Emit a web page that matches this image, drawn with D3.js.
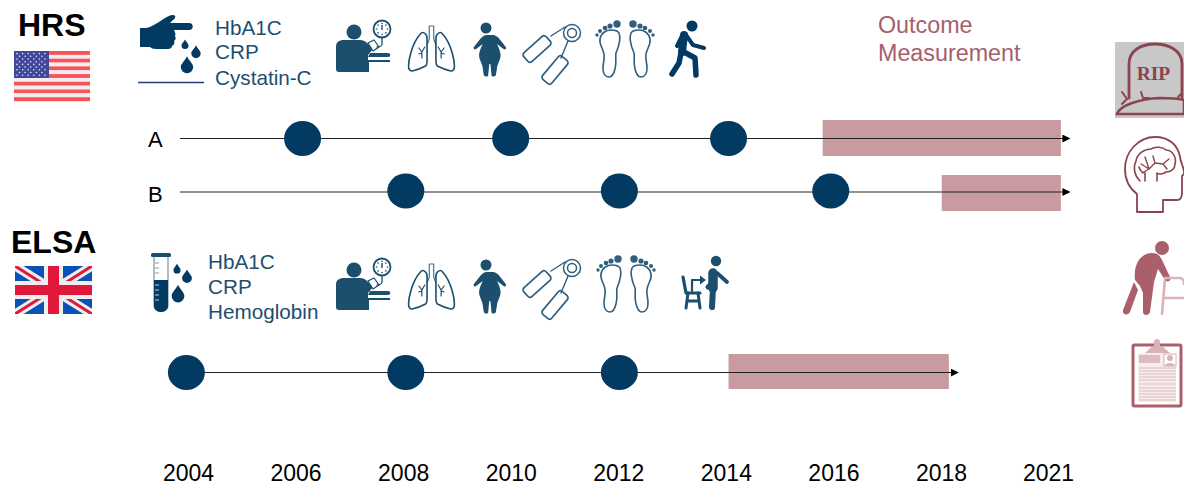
<!DOCTYPE html>
<html>
<head>
<meta charset="utf-8">
<script src="https://cdn.jsdelivr.net/npm/d3@7"></script>
<style>
html, body { margin: 0; padding: 0; background: #fff; }
svg { display: block; }
text { font-family: "Liberation Sans", Arial, sans-serif; }
</style>
</head>
<body>
<div id="chart"></div>
<script>
// tick labels: the axis has a jump, 2018 -> 2021 takes the same room as one two year step
var tickYears = [2004, 2006, 2008, 2010, 2012, 2014, 2016, 2018, 2021];

// wave years per row
var rowNames = ["A", "B", "ELSA"];
var waveYearsA = [2006.13, 2010, 2014.05];
var waveYearsB = [2008.05, 2012.02, 2015.95];
var waveYearsElsa = [2003.97, 2008.05, 2012.02];

// outcome measurement windows [from, to]
var outcomeA = [2015.8, 2021.36];
var outcomeB = [2018.02, 2021.36];
var outcomeElsa = [2014.05, 2018.22];

// time line start and end per row
var lineA = [2003.85, 2021.6];
var lineB = [2003.85, 2021.6];
var lineElsa = [2003.97, 2018.47];

var hrsMarkers = ["HbA1C", "CRP", "Cystatin-C"];
var elsaMarkers = ["HbA1C", "CRP", "Hemoglobin"];
var outcomeLabel = ["Outcome", "Measurement"];

var navy = "#023a62", teal = "#1c4e6e", rose = "#8c4350", roseLight = "#c99aa0";

var svg = d3.select("#chart").append("svg")
  .attr("width", 1184)
  .attr("height", 486);

var x = d3.scaleLinear()
  .domain([2004, 2018, 2021])
  .range([188, 941, 1048]);

var rowY = d3.scaleOrdinal()
  .domain(rowNames)
  .range([138.5, 192, 372.5]);

// x axis, only the labels show
var axis = svg.append("g")
  .attr("transform", "translate(0,481)")
  .call(d3.axisBottom(x).tickValues(tickYears).tickFormat(d3.format("d")).tickSize(0));
axis.select(".domain").remove();
axis.selectAll("text")
  .attr("y", 0)
  .attr("dy", 0)
  .style("font-family", '"Liberation Sans", Arial, sans-serif')
  .style("font-size", "23px")
  .attr("fill", "#000");

// rows
var rows = [
  { name: "A", waves: waveYearsA, outcome: outcomeA, line: lineA, barShift: -18.5, dotShift: 0 },
  { name: "B", waves: waveYearsB, outcome: outcomeB, line: lineB, barShift: -17, dotShift: -1 },
  { name: "ELSA", waves: waveYearsElsa, outcome: outcomeElsa, line: lineElsa, barShift: -18.5, dotShift: 0 }
];

svg.append("defs").append("marker")
  .attr("id", "arrow")
  .attr("viewBox", "0 0 8 8")
  .attr("refX", 7).attr("refY", 4)
  .attr("markerWidth", 8).attr("markerHeight", 8)
  .attr("markerUnits", "userSpaceOnUse")
  .attr("orient", "auto")
  .append("path").attr("d", "M0,0L8,4L0,8Z").attr("fill", "#000");

rows.forEach(function(r) {
  var g = svg.append("g");
  var h = r.name == "ELSA" ? 35 : 36;
  g.append("rect")
    .attr("x", x(r.outcome[0]))
    .attr("width", x(r.outcome[1]) - x(r.outcome[0]))
    .attr("y", rowY(r.name) + r.barShift)
    .attr("height", h)
    .attr("fill", roseLight);
  g.append("line")
    .attr("x1", x(r.line[0])).attr("x2", x(r.line[1]))
    .attr("y1", rowY(r.name)).attr("y2", rowY(r.name))
    .attr("stroke", "#222").attr("stroke-width", 1)
    .attr("marker-end", "url(#arrow)");
  g.selectAll("ellipse").data(r.waves).enter().append("ellipse")
    .attr("cx", function(d) { return x(d); })
    .attr("cy", rowY(r.name) + r.dotShift)
    .attr("rx", 18.5).attr("ry", 17.5)
    .attr("fill", navy);
});

// text labels
function label(txt, px, py, size, fill, weight) {
  svg.append("text").attr("x", px).attr("y", py)
    .attr("font-size", size).attr("fill", fill)
    .attr("font-weight", weight || "normal")
    .text(txt);
}
label("HRS", 18, 36, 32, "#000", "bold");
label("ELSA", 11, 253, 32, "#000", "bold");
label("A", 148, 147, 22, "#000");
label("B", 148, 202, 22, "#000");
var hrsY = [35, 59, 85], elsaY = [269, 294, 319];
hrsMarkers.forEach(function(t, i) { label(t, 215, hrsY[i], 20.7, teal); });
elsaMarkers.forEach(function(t, i) { label(t, 208, elsaY[i], 20.7, teal); });
outcomeLabel.forEach(function(t, i) { label(t, 878, 33 + i * 28, 23.3, "#a5606a"); });

// icons, drawn in local coordinates
function place(px, py) {
  return svg.append("g").attr("transform", "translate(" + px + "," + py + ")");
}
function drop(g, cx, cy, r, col) {
  g.append("path")
    .attr("d", "M" + cx + "," + (cy - r * 1.75) +
      "C" + (cx + r * 0.35) + "," + (cy - r * 1.0) + " " + (cx + r) + "," + (cy - r * 0.55) + " " + (cx + r) + "," + cy +
      "A" + r + "," + r + " 0 1 1 " + (cx - r) + "," + cy +
      "C" + (cx - r) + "," + (cy - r * 0.55) + " " + (cx - r * 0.35) + "," + (cy - r) + " " + cx + "," + (cy - r * 1.75) + "Z")
    .attr("fill", col);
}
function stroke(g, d, w, col) {
  return g.append("path").attr("d", d).attr("fill", "none")
    .attr("stroke", col).attr("stroke-width", w)
    .attr("stroke-linecap", "round").attr("stroke-linejoin", "round");
}

function usFlag(px, py) {
  var g = place(px, py);
  for (var i = 0; i < 13; i++) {
    g.append("rect").attr("x", 0).attr("y", i * 50 / 13).attr("width", 76).attr("height", 50 / 13 + 0.2)
      .attr("fill", i % 2 == 0 ? "#f9545c" : "#efefef");
  }
  g.append("rect").attr("width", 35).attr("height", 27).attr("fill", "#41479b");
  for (var row = 0; row < 9; row++) {
    for (var col = 0; col < (row % 2 ? 5 : 6); col++) {
      g.append("circle")
        .attr("cx", (row % 2 ? 5.5 : 3) + col * 5.6)
        .attr("cy", 2.6 + row * 2.7)
        .attr("r", 0.8).attr("fill", "#e8e8f4");
    }
  }
}

function ukFlag(px, py) {
  var g = place(px, py);
  g.append("clipPath").attr("id", "ukclip").append("rect").attr("width", 77).attr("height", 48);
  var f = g.append("g").attr("clip-path", "url(#ukclip)");
  f.append("rect").attr("width", 77).attr("height", 48).attr("fill", "#0a52b5");
  f.append("path").attr("d", "M0,0L77,48M77,0L0,48").attr("stroke", "#eee").attr("stroke-width", 9);
  f.append("path").attr("d", "M0,0L38,24M77,0L39,24M0,48L38,24M77,48L39,24").attr("stroke", "#e0183c").attr("stroke-width", 3);
  f.append("rect").attr("x", 29).attr("width", 19).attr("height", 48).attr("fill", "#eee");
  f.append("rect").attr("y", 15).attr("width", 77).attr("height", 18).attr("fill", "#eee");
  f.append("rect").attr("x", 33).attr("width", 11).attr("height", 48).attr("fill", "#e0183c");
  f.append("rect").attr("y", 19).attr("width", 77).attr("height", 10).attr("fill", "#e0183c");
}

function hand(px, py) {
  var g = place(px, py);
  g.append("path")
    .attr("d", "M0,13h6c6,-1 11,-5 16,-8c4,-3 8,-5 11,-5c3,0 3,3 0,5l-3,3h19c5,0 5,7 0,7h-15c1,2 2,4 1,6c1,1 1,4 -1,5c1,2 0,4 -2,5c0,2 -2,3 -4,3h-12c-3,0 -5,-1 -6,-2h-10Z")
    .attr("fill", navy);
  drop(g, 45, 30.5, 3.5, navy);
  drop(g, 56, 38.5, 4.7, navy);
  drop(g, 47, 52, 6.2, navy);
  g.append("line").attr("x1", -2).attr("x2", 64).attr("y1", 67.5).attr("y2", 67.5)
    .attr("stroke", "#1f3f7a").attr("stroke-width", 1.6);
}

function bpMan(px, py) {
  var g = place(px, py);
  g.append("circle").attr("cx", 18).attr("cy", 13).attr("r", 7.5).attr("fill", teal);
  g.append("path")
    .attr("d", "M0,28c0,-5 3,-7 8,-7h16c3,0 5,1 7,3l6,6l-5,6v17H3c-2,0 -3,-1 -3,-3Z")
    .attr("fill", teal);
  g.append("path").attr("d", "M32,24l6,-3l5,7l-6,4Z").attr("fill", "#fff").attr("stroke", teal).attr("stroke-width", 1.2);
  g.append("path").attr("d", "M34,34h18c3,0 3,4 0,4h-20Z").attr("fill", teal);
  g.append("path").attr("d", "M31,53v-12h23v2h-21v10Z").attr("fill", teal);
  stroke(g, "M46,19v6c0,2 -3,3 -5,3", 1.3, teal);
  g.append("circle").attr("cx", 46).attr("cy", 10).attr("r", 8.5).attr("fill", "#fff").attr("stroke", teal).attr("stroke-width", 1.8);
  g.selectAll("circle.tick").data([0, 45, 90, 135, 180, 225, 270, 315]).enter().append("circle")
    .attr("cx", function(d) { return 46 + 5.5 * Math.cos(d * Math.PI / 180); })
    .attr("cy", function(d) { return 10 + 5.5 * Math.sin(d * Math.PI / 180); })
    .attr("r", 0.8).attr("fill", teal);
  g.append("line").attr("x1", 46).attr("x2", 46).attr("y1", 6).attr("y2", 11).attr("stroke", teal).attr("stroke-width", 1.4);
}

function lungs(px, py) {
  var g = place(px, py).append("g").attr("transform", "scale(0.74,1)");
  var c = teal;
  var paths = [
    stroke(g, "M-3,2V0H3V2M-3,0V13L-6,19M3,0V13L6,19", 1.2, "#4d7590"),
    stroke(g, "M-8,8c-3,-2 -5,-2 -7,0c-5,4 -10,11 -13,19c-2,5 -3,10 -3,13c0,4 2,5 5,5c6,-1 13,-3 18,-5c2,-1 2,-3 2,-6v-22c0,-2 -1,-3 -2,-4Z", 1.6, c),
    stroke(g, "M8,8c3,-2 5,-2 7,0c5,4 10,11 13,19c2,5 3,10 3,13c0,4 -2,5 -5,5c-6,-1 -13,-3 -18,-5c-2,-1 -2,-3 -2,-6v-22c0,-2 1,-3 2,-4Z", 1.6, c),
    stroke(g, "M-13,32v-6l-4,-4M-13,26l4,-5M-13,27l-4,1", 1.2, c),
    stroke(g, "M13,32v-6l4,-4M13,26l-4,-5M13,27l4,1", 1.2, c)
  ];
  paths.forEach(function(p) { p.attr("vector-effect", "non-scaling-stroke"); });
}

function bigMan(px, py) {
  var g = place(px, py);
  g.append("circle").attr("cx", 0).attr("cy", 6).attr("r", 5.5).attr("fill", teal);
  g.append("path")
    .attr("transform", "scale(1.1,1)")
    .attr("d", "M-5,13h10c4,0 6,2 8,5l5,7c1,2 -1,3 -2,2l-6,-5c2,5 4,9 3,14c-1,4 -3,7 -3,10l-1,7c-1,2 -4,2 -4,0l-1,-11h-1l-1,11c0,2 -3,2 -4,0l-1,-7c0,-3 -2,-6 -3,-10c-1,-5 1,-9 3,-14l-6,5c-1,1 -3,0 -2,-2l5,-7c2,-3 4,-5 7,-5Z")
    .attr("fill", teal);
}

function gripper(px, py) {
  var g = place(px, py);
  var c = "#2f5f7f";
  g.append("circle").attr("cx", 45).attr("cy", 11).attr("r", 8.5).attr("fill", "none").attr("stroke", c).attr("stroke-width", 1.5);
  g.append("circle").attr("cx", 45).attr("cy", 11).attr("r", 4.5).attr("fill", "none").attr("stroke", c).attr("stroke-width", 1.5);
  stroke(g, "M38,5L24,14M41,19L34,36", 1.4, c);
  g.append("rect").attr("x", -15).attr("y", -6).attr("width", 30).attr("height", 12).attr("rx", 3)
    .attr("transform", "translate(10,27) rotate(-42)")
    .attr("fill", "none").attr("stroke", c).attr("stroke-width", 1.7);
  g.append("rect").attr("x", -15).attr("y", -6).attr("width", 30).attr("height", 12).attr("rx", 3)
    .attr("transform", "translate(28,48) rotate(-50)")
    .attr("fill", "none").attr("stroke", c).attr("stroke-width", 1.7);
}

function feet(px, py) {
  var g = place(px, py);
  var c = "#2f5f7f";
  [-1, 1].forEach(function(s) {
    var f = g.append("g").attr("transform", "scale(" + s + ",1)");
    stroke(f, "M6,15c-2,5 0,13 3,20c1,4 -1,9 1,16c1,4 3,8 6,8c4,0 6,-4 6,-9c0,-6 -2,-9 -1,-14c1,-6 5,-9 4,-15c-1,-6 -6,-9 -11,-9c-4,0 -7,1 -8,3Z", 1.6, c);
    f.append("circle").attr("cx", 8).attr("cy", 6).attr("r", 3.7).attr("fill", c);
    f.append("circle").attr("cx", 15).attr("cy", 8).attr("r", 2.6).attr("fill", c);
    f.append("circle").attr("cx", 20).attr("cy", 10).attr("r", 2.3).attr("fill", c);
    f.append("circle").attr("cx", 25).attr("cy", 13).attr("r", 2).attr("fill", c);
    f.append("circle").attr("cx", 28).attr("cy", 17).attr("r", 1.7).attr("fill", c);
  });
}

function walkMan(px, py) {
  var g = place(px, py);
  g.append("circle").attr("cx", 21).attr("cy", 6).attr("r", 5.5).attr("fill", navy);
  stroke(g, "M13,15L11,32", 8, navy);
  stroke(g, "M13,32L24,38L25,55", 5.5, navy);
  stroke(g, "M10,33L8,43L1,54", 5.5, navy);
  stroke(g, "M15,15L22,25L33,28", 4, navy);
  stroke(g, "M11,16L6,26", 4, navy);
}

function tube(px, py) {
  var g = place(px, py);
  g.append("rect").attr("x", 0).attr("y", 0).attr("width", 20).attr("height", 4).attr("rx", 1.5).attr("fill", "#1c4e6e");
  g.append("path").attr("d", "M3,4V53c0,5 14,5 14,0V4").attr("fill", "none").attr("stroke", "#7f9db2").attr("stroke-width", 1.3);
  g.append("path").attr("d", "M3,27H17V53c0,8 -14,8 -14,0Z").attr("fill", navy);
  g.selectAll("line").data([10, 15, 20, 32, 37, 42, 47]).enter().append("line")
    .attr("x1", 4).attr("x2", 8)
    .attr("y1", function(d) { return d; }).attr("y2", function(d) { return d; })
    .attr("stroke", function(d) { return d > 27 ? "#c3d2dc" : "#7f9db2"; }).attr("stroke-width", 1);
  drop(g, 26, 17, 3.6, navy);
  drop(g, 36, 25, 4.9, navy);
  drop(g, 27, 43, 6.4, navy);
}

function chairMan(px, py) {
  var g = place(px, py);
  stroke(g, "M0,7L3,23H17", 3.2, teal);
  stroke(g, "M5,23L3,38M15,23L17,38M5,31H16", 3, teal);
  stroke(g, "M9,21V10H17", 2.2, teal);
  g.append("path").attr("d", "M17,5.5L23,10L17,14.5Z").attr("fill", teal);
  g.append("circle").attr("cx", 33).attr("cy", -9).attr("r", 5.2).attr("fill", teal);
  stroke(g, "M30,3L30,18", 9.5, teal);
  stroke(g, "M28,14L25,17", 5, teal);
  stroke(g, "M30,18L29,37", 6, teal);
  stroke(g, "M34,3L44,12", 3.8, teal);
}

function tomb(px, py) {
  var g = place(px, py);
  g.append("rect").attr("width", 69).attr("height", 76).attr("fill", "#c8c8c8");
  stroke(g, "M14,56V22C14,8 27,2 40,2C53,2 67,8 67,22V56", 2.8, rose);
  g.append("path").attr("d", "M2,72C5,63 25,57 45,56C55,56 65,57 69,58V72Z")
    .attr("fill", "#c8c8c8").attr("stroke", rose).attr("stroke-width", 2.6);
  stroke(g, "M7,50l5,7l-5,5M26,50l2,6l6,0M63,55l4,-4", 2, rose);
  g.append("text").attr("x", 38.5).attr("y", 38).attr("text-anchor", "middle")
    .style("font-family", '"Liberation Serif", serif')
    .attr("font-size", 19.5).attr("font-weight", "bold").attr("fill", rose).text("RIP");
}

function brainHead(px, py) {
  var g = place(px, py);
  stroke(g, "M12,75V57C4,51 0,42 0,32C0,14 14,0 30,0C44,0 53,8 55,20C56,27 60,33 59,37L57,39V56C57,61 55,63 52,63H38V75Z", 1.8, rose);
  stroke(g, "M15,44C9,38 8,30 11,24C12,17 19,12 26,12C30,9 38,10 41,13C47,13 52,20 50,27C50,32 46,35 41,35C37,38 33,37 32,36V44M20,44V36C18,36 15,34 14,30", 1.6, rose);
  stroke(g, "M16,27L24,32L20,20M24,32L30,26L28,19M30,26L38,27L44,22M38,27L42,32M17,36L24,32", 1.4, rose);
}

function walkerMan(px, py) {
  var g = place(px, py);
  g.append("circle").attr("cx", 39).attr("cy", 8).attr("r", 7).attr("fill", "#a9606a");
  g.append("path")
    .attr("d", "M12,40C10,24 18,13 29,13C35,13 37,16 39,20L47,37C49,41 44,43 42,40L35,29L31,42L27,72C26,76 20,76 20,72V53L17,46Z")
    .attr("fill", "#a9606a");
  g.append("path").attr("d", "M11,42L15,50L7,72C5,76 -1,75 0,70Z").attr("fill", "#a9606a");
  stroke(g, "M39,74L42,38H56C60,38 61,40 61,44", 2.6, "#d9b3b8");
  stroke(g, "M41,58H61", 2.6, "#d9b3b8");
}

function clipboard(px, py) {
  var g = place(px, py);
  g.append("rect").attr("x", 1).attr("y", 8).attr("width", 48).attr("height", 61).attr("rx", 1.5)
    .attr("fill", "#fff").attr("stroke", "#a9606a").attr("stroke-width", 3);
  g.append("path").attr("d", "M13,16L20,9H22V5A3,3 0 0 1 28,5V9H30L38,16Z").attr("fill", "#d9b3b8");
  g.append("rect").attr("x", 6).attr("y", 16).attr("width", 38).attr("height", 49).attr("fill", "#f6eced");
  g.append("rect").attr("x", 7).attr("y", 18).attr("width", 21).attr("height", 8).attr("fill", "#dcbcc0");
  g.append("rect").attr("x", 32).attr("y", 17).attr("width", 12).attr("height", 12).attr("fill", "#fff").attr("stroke", "#d9b3b8");
  g.append("circle").attr("cx", 38).attr("cy", 21).attr("r", 3).attr("fill", "#d9b3b8");
  g.append("path").attr("d", "M33,29c0,-4 10,-4 10,0Z").attr("fill", "#d9b3b8");
  g.selectAll("line.row").data([31, 34, 37, 40, 43, 47, 51, 54, 57, 60, 63]).enter().append("line")
    .attr("x1", 7).attr("x2", 44)
    .attr("y1", function(d) { return d; }).attr("y2", function(d) { return d; })
    .attr("stroke", "#dcbcc0").attr("stroke-width", 1);
}

usFlag(14, 51);
ukFlag(15, 266);

hand(140, 15);
bpMan(336, 19);
lungs(431.5, 26);
bigMan(486, 22);
gripper(527, 22);
feet(625, 18);
walkMan(671, 20);

tube(151, 253);
bpMan(336, 257);
lungs(431.5, 264);
bigMan(486, 259);
gripper(527, 257);
feet(626, 253);
chairMan(683, 270);

tomb(1115, 42);
brainHead(1125, 137);
walkerMan(1123, 240);
clipboard(1132, 337);
</script>
</body>
</html>
